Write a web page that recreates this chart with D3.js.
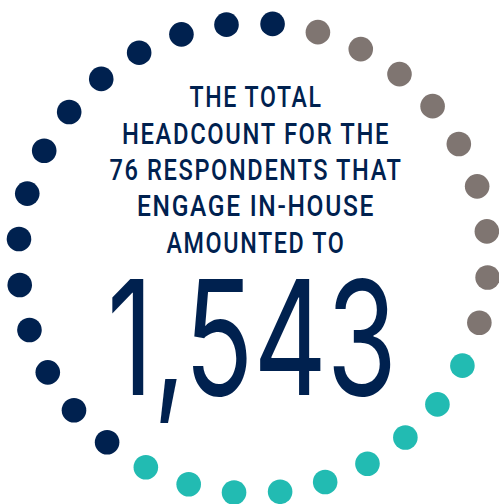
<!DOCTYPE html>
<html>
<head>
<meta charset="utf-8">
<script src="https://cdn.jsdelivr.net/npm/d3@7"></script>
<style>
  html, body { margin: 0; padding: 0; background: #ffffff; }
  svg { display: block; }
</style>
</head>
<body>
<svg id="chart" width="499" height="504"></svg>
<script>
// Respondent groups shown as a ring of dots, in clockwise order
const groups = ["In-house", "Other", "Outsourced"];
const dotCounts = [14, 9, 9];
const groupColors = ["#00214f", "#7f7571", "#22bbb2"];

// Headline text
const headlineLines = ["THE TOTAL", "HEADCOUNT FOR THE", "76 RESPONDENTS THAT", "ENGAGE IN-HOUSE", "AMOUNTED TO"];
const headlineWidths = [133, 268, 293, 238, 179];
const totalHeadcount = 1543;

const width = 499, height = 504;
const cx = 253.3, cy = 258.2, ringRadius = 235.1, dotRadius = 12.3;
const startAngle = -141.55; // degrees, clockwise from 12 o'clock

const svg = d3.select("#chart");

// Expand the counts into one record per dot
const dots = [];
groups.forEach((g, gi) => {
  d3.range(dotCounts[gi]).forEach(() => dots.push({ group: g, color: groupColors[gi] }));
});
const total = d3.sum(dotCounts);

const angle = d3.scaleLinear()
  .domain([0, total])
  .range([startAngle, startAngle + 360]);

svg.append("g")
  .selectAll("circle")
  .data(dots)
  .join("circle")
  .attr("cx", (d, i) => cx + ringRadius * Math.sin(angle(i) * Math.PI / 180))
  .attr("cy", (d, i) => cy - ringRadius * Math.cos(angle(i) * Math.PI / 180))
  .attr("r", dotRadius)
  .attr("fill", d => d.color);

// Headline block
const textX = 256;
const lineY = d3.scaleLinear().domain([0, headlineLines.length - 1]).range([107.3, 252.7]);

svg.append("g")
  .selectAll("text")
  .data(headlineLines)
  .join("text")
  .attr("x", textX)
  .attr("y", (d, i) => lineY(i))
  .attr("text-anchor", "middle")
  .attr("textLength", (d, i) => headlineWidths[i])
  .attr("lengthAdjust", "spacingAndGlyphs")
  .style("font-family", "Roboto, 'DejaVu Sans Condensed', sans-serif")
  .style("font-weight", 500)
  .style("font-size", "29px")
  .style("letter-spacing", "2px")
  .attr("fill", "#00214f")
  .text(d => d);

// Big total
svg.append("text")
  .attr("x", textX - 4)
  .attr("y", 395)
  .attr("text-anchor", "middle")
  .attr("textLength", 290)
  .attr("lengthAdjust", "spacingAndGlyphs")
  .style("font-family", "Inter, Roboto, sans-serif")
  .style("font-weight", 400)
  .style("font-size", "159px")
  .attr("fill", "#00214f")
  .text(d3.format(",")(totalHeadcount));
</script>
</body>
</html>
